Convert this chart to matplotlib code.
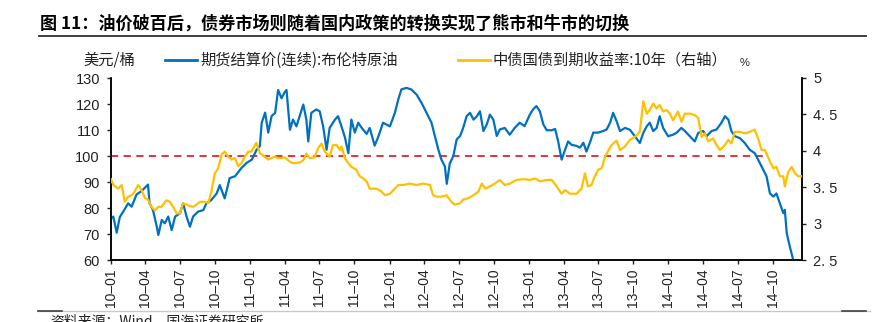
import matplotlib
matplotlib.use("Agg")
import matplotlib.pyplot as plt
import matplotlib.dates as mdates
from matplotlib.lines import Line2D
import pandas as pd

plt.rcParams["font.family"] = ["Liberation Sans", "Noto Sans CJK SC", "DejaVu Sans"]

# Brent continuous futures settlement, USD/bbl
oil_dates = [
    "2010-01-01", "2010-01-07", "2010-01-16", "2010-01-24", "2010-02-02", "2010-02-15",
    "2010-02-24", "2010-03-09", "2010-03-22", "2010-03-31", "2010-04-08", "2010-04-12",
    "2010-04-21", "2010-05-01", "2010-05-05", "2010-05-14", "2010-05-22", "2010-05-31",
    "2010-06-09", "2010-06-18", "2010-07-01", "2010-07-09", "2010-07-18", "2010-07-27",
    "2010-08-04", "2010-08-17", "2010-08-31", "2010-09-08", "2010-09-21", "2010-10-05",
    "2010-10-13", "2010-10-26", "2010-11-08", "2010-11-22", "2010-12-09", "2010-12-22",
    "2011-01-05", "2011-01-18", "2011-01-26", "2011-01-31", "2011-02-09", "2011-02-17",
    "2011-02-26", "2011-03-07", "2011-03-15", "2011-03-24", "2011-04-01", "2011-04-06",
    "2011-04-15", "2011-04-23", "2011-05-02", "2011-05-20", "2011-05-28", "2011-06-02",
    "2011-06-10", "2011-06-23", "2011-07-02", "2011-07-11", "2011-07-20", "2011-07-28",
    "2011-08-11", "2011-08-19", "2011-08-28", "2011-09-06", "2011-09-15", "2011-09-23",
    "2011-10-02", "2011-10-11", "2011-10-20", "2011-11-02", "2011-11-10", "2011-11-23",
    "2011-12-02", "2011-12-15", "2012-01-02", "2012-01-15", "2012-01-24", "2012-02-01",
    "2012-02-14", "2012-02-27", "2012-03-12", "2012-03-25", "2012-04-07", "2012-04-20",
    "2012-04-29", "2012-05-08", "2012-05-16", "2012-05-25", "2012-05-30", "2012-06-07",
    "2012-06-16", "2012-06-25", "2012-07-04", "2012-07-12", "2012-07-21", "2012-07-30",
    "2012-08-08", "2012-08-17", "2012-08-25", "2012-09-03", "2012-09-12", "2012-09-20",
    "2012-09-29", "2012-10-08", "2012-10-16", "2012-10-29", "2012-11-11", "2012-11-24",
    "2012-12-07", "2012-12-20", "2013-01-03", "2013-01-11", "2013-01-20", "2013-01-29",
    "2013-02-07", "2013-02-16", "2013-03-01", "2013-03-10", "2013-03-18", "2013-03-27",
    "2013-04-05", "2013-04-13", "2013-04-22", "2013-05-05", "2013-05-14", "2013-05-23",
    "2013-05-31", "2013-06-09", "2013-06-18", "2013-07-01", "2013-07-14", "2013-07-23",
    "2013-08-01", "2013-08-09", "2013-08-18", "2013-08-27", "2013-09-09", "2013-09-22",
    "2013-10-05", "2013-10-18", "2013-10-27", "2013-11-05", "2013-11-13", "2013-11-22",
    "2013-12-01", "2013-12-09", "2013-12-18", "2013-12-31", "2014-01-13", "2014-01-22",
    "2014-02-04", "2014-02-13", "2014-02-26", "2014-03-11", "2014-03-20", "2014-04-02",
    "2014-04-11", "2014-04-24", "2014-05-07", "2014-05-20", "2014-05-29", "2014-06-07",
    "2014-06-15", "2014-06-24", "2014-07-07", "2014-07-20", "2014-08-02", "2014-08-15",
    "2014-08-24", "2014-09-06", "2014-09-15", "2014-09-24", "2014-10-03", "2014-10-11",
    "2014-10-20", "2014-10-29", "2014-11-02", "2014-11-07", "2014-11-15", "2014-11-24",
    "2014-12-03", "2014-12-10",
]
oil_price = [
    76.0, 76.7, 70.5, 76.5, 78.6, 81.8,
    80.5, 85.2, 86.5, 87.8, 89.0, 81.8,
    79.2, 72.8, 69.6, 75.4, 74.1, 76.7,
    71.5, 76.7, 78.0, 81.8, 76.7, 72.8,
    76.7, 78.6, 79.2, 81.8, 83.1, 85.6,
    88.8, 83.7, 91.5, 92.2, 95.4, 97.3,
    98.6, 102.5, 103.8, 112.8, 116.7, 109.0,
    115.4, 116.5, 125.4, 122.2, 124.5, 125.4,
    110.1, 114.0, 111.4, 119.8, 114.0, 105.6,
    116.6, 117.9, 117.2, 111.4, 102.4, 110.8,
    114.0, 115.3, 111.4, 107.2, 101.1, 114.0,
    109.0, 112.8, 110.8, 108.5, 110.8, 104.0,
    107.2, 112.8, 111.4, 116.6, 121.8, 125.6,
    126.2, 125.6, 123.6, 120.4, 116.6, 112.8,
    107.6, 102.4, 98.6, 96.0, 89.3, 97.2,
    99.9, 106.4, 107.7, 110.8, 115.3, 116.6,
    114.0, 115.3, 117.2, 109.6, 112.2, 115.9,
    114.0, 107.7, 110.2, 110.8, 108.2, 110.8,
    112.8, 111.5, 116.0, 117.9, 119.2, 117.2,
    112.2, 109.9, 109.9, 110.4, 105.6, 98.6,
    102.4, 105.6, 104.3, 103.9, 103.2, 105.1,
    101.7, 105.1, 109.0, 109.0, 109.6, 110.2,
    112.8, 116.6, 113.4, 109.6, 110.8, 110.1,
    107.6, 105.0, 108.9, 111.4, 112.8, 109.6,
    110.8, 115.3, 110.8, 107.6, 108.2, 108.9,
    110.8, 109.6, 107.6, 105.6, 108.9, 109.6,
    107.6, 109.6, 110.2, 112.8, 115.3, 114.0,
    109.6, 107.6, 106.9, 105.0, 102.4, 101.1,
    98.6, 94.8, 92.2, 85.6, 84.4, 85.6,
    81.8, 78.0, 79.3, 70.3, 65.2, 60.0,
    58.5, 57.0,
]

# China government bond 10Y yield, %
yield_dates = [
    "2010-01-01", "2010-01-07", "2010-01-20", "2010-01-29", "2010-02-06", "2010-02-15",
    "2010-02-24", "2010-03-04", "2010-03-13", "2010-03-22", "2010-03-31", "2010-04-08",
    "2010-04-17", "2010-04-26", "2010-05-05", "2010-05-13", "2010-05-26", "2010-06-04",
    "2010-06-13", "2010-06-22", "2010-06-30", "2010-07-09", "2010-07-18", "2010-07-27",
    "2010-08-04", "2010-08-13", "2010-08-22", "2010-09-04", "2010-09-13", "2010-09-21",
    "2010-09-30", "2010-10-09", "2010-10-18", "2010-10-26", "2010-11-04", "2010-11-13",
    "2010-11-22", "2010-11-30", "2010-12-09", "2010-12-18", "2010-12-27", "2011-01-04",
    "2011-01-17", "2011-01-26", "2011-02-08", "2011-02-17", "2011-02-26", "2011-03-06",
    "2011-03-15", "2011-03-24", "2011-04-01", "2011-04-15", "2011-04-23", "2011-05-11",
    "2011-05-20", "2011-05-28", "2011-06-06", "2011-06-19", "2011-06-28", "2011-07-07",
    "2011-07-15", "2011-07-28", "2011-08-06", "2011-08-15", "2011-08-24", "2011-08-28",
    "2011-09-06", "2011-09-15", "2011-09-23", "2011-10-06", "2011-10-15", "2011-10-24",
    "2011-11-02", "2011-11-10", "2011-11-28", "2011-12-11", "2011-12-20", "2012-01-02",
    "2012-01-15", "2012-01-24", "2012-02-06", "2012-02-23", "2012-03-12", "2012-03-29",
    "2012-04-16", "2012-04-24", "2012-05-03", "2012-05-16", "2012-05-29", "2012-06-07",
    "2012-06-11", "2012-06-20", "2012-07-04", "2012-07-12", "2012-07-26", "2012-08-08",
    "2012-08-21", "2012-08-30", "2012-09-08", "2012-09-20", "2012-10-03", "2012-10-16",
    "2012-10-29", "2012-11-11", "2012-11-29", "2012-12-16", "2013-01-03", "2013-01-16",
    "2013-01-29", "2013-02-16", "2013-03-01", "2013-03-14", "2013-03-27", "2013-04-05",
    "2013-04-18", "2013-05-05", "2013-05-18", "2013-05-27", "2013-06-04", "2013-06-13",
    "2013-06-22", "2013-07-01", "2013-07-10", "2013-07-19", "2013-07-28", "2013-08-05",
    "2013-08-18", "2013-08-27", "2013-09-09", "2013-09-22", "2013-10-05", "2013-10-18",
    "2013-10-27", "2013-11-05", "2013-11-13", "2013-11-22", "2013-12-01", "2013-12-09",
    "2013-12-18", "2013-12-27", "2014-01-05", "2014-01-13", "2014-01-26", "2014-02-04",
    "2014-02-13", "2014-02-26", "2014-03-11", "2014-03-20", "2014-03-29", "2014-04-06",
    "2014-04-15", "2014-04-28", "2014-05-07", "2014-05-16", "2014-05-29", "2014-06-07",
    "2014-06-15", "2014-06-24", "2014-07-07", "2014-07-20", "2014-08-02", "2014-08-15",
    "2014-08-24", "2014-09-02", "2014-09-11", "2014-09-24", "2014-10-03", "2014-10-11",
    "2014-10-20", "2014-10-29", "2014-11-02", "2014-11-11", "2014-11-20", "2014-11-29",
    "2014-12-07", "2014-12-16",
]
yield_pct = [
    3.61, 3.53, 3.48, 3.53, 3.30, 3.37,
    3.39, 3.44, 3.53, 3.46, 3.35, 3.33,
    3.23, 3.18, 3.23, 3.23, 3.32, 3.30,
    3.23, 3.14, 3.14, 3.28, 3.26, 3.24,
    3.23, 3.26, 3.30, 3.30, 3.28, 3.44,
    3.69, 3.76, 3.95, 3.99, 3.92, 3.88,
    3.90, 3.79, 3.83, 3.92, 3.99, 3.99,
    4.11, 3.97, 3.92, 3.88, 3.90, 3.92,
    3.90, 3.90, 3.91, 3.85, 3.83, 3.84,
    3.87, 3.96, 3.90, 3.91, 4.04, 4.10,
    3.99, 3.92, 4.08, 4.08, 4.01, 4.06,
    3.90, 3.83, 3.78, 3.74, 3.65, 3.62,
    3.58, 3.48, 3.48, 3.44, 3.39, 3.41,
    3.48, 3.53, 3.53, 3.55, 3.53, 3.55,
    3.53, 3.39, 3.37, 3.37, 3.39, 3.33,
    3.30, 3.26, 3.28, 3.33, 3.35, 3.39,
    3.44, 3.55, 3.48, 3.51, 3.55, 3.60,
    3.53, 3.55, 3.60, 3.61, 3.60, 3.62,
    3.58, 3.60, 3.60, 3.51, 3.41, 3.46,
    3.41, 3.41, 3.48, 3.69, 3.51, 3.53,
    3.65, 3.74, 3.76, 3.92, 4.01, 4.08,
    4.14, 4.01, 4.06, 4.15, 4.19, 4.26,
    4.68, 4.51, 4.56, 4.65, 4.58, 4.63,
    4.54, 4.56, 4.51, 4.42, 4.54, 4.40,
    4.51, 4.51, 4.49, 4.45, 4.19, 4.24,
    4.13, 4.17, 4.08, 4.01, 4.08, 4.15,
    4.10, 4.26, 4.26, 4.24, 4.26, 4.29,
    4.17, 4.01, 4.01, 3.85, 3.76, 3.78,
    3.65, 3.65, 3.51, 3.71, 3.78, 3.69,
    3.65, 3.65,
]

# 100 USD/bbl reference line
ref_level = 100
ref_span = ["2010-01-01", "2014-09-12"]

left_ticks = [60, 70, 80, 90, 100, 110, 120, 130]
right_ticks = [2.5, 3.0, 3.5, 4.0, 4.5, 5.0]
right_labels = ["2. 5", "3", "3. 5", "4", "4. 5", "5"]

title = "图 11：油价破百后，债券市场则随着国内政策的转换实现了熊市和牛市的切换"
oil_label = "期货结算价(连续):布伦特原油"
yield_label = "中债国债到期收益率:10年（右轴）"
left_unit = "美元/桶"
right_unit = "%"
source = "资料来源：Wind，国海证券研究所"

BLUE = "#0070C0"
GOLD = "#FFC000"
RED = "#D9262B"
CJK = ["Noto Sans CJK SC", "DejaVu Sans"]

W, H = 891, 322
fig = plt.figure(figsize=(W / 100, H / 100), dpi=100)


def fx(px):
    return px / W


def fy(py):
    return 1 - py / H


ax = fig.add_axes([fx(111), fy(260), fx(802) - fx(111), fy(78) - fy(260)])
ax2 = ax.twinx()

ax.plot(pd.to_datetime(oil_dates), oil_price, color=BLUE, lw=1.6, zorder=3)
ax.hlines(ref_level, pd.to_datetime(ref_span[0]), pd.to_datetime(ref_span[1]),
          colors=RED, linestyles=(0, (4, 3)), lw=1.3, zorder=2)
ax2.plot(pd.to_datetime(yield_dates), yield_pct, color=GOLD, lw=1.6, zorder=3)

ax.set_xlim(pd.Timestamp("2010-01-01"), pd.Timestamp("2014-12-17"))
ax.set_ylim(60, 130)
ax2.set_ylim(2.5, 5)
ax.set_yticks(left_ticks)
ax2.set_yticks(right_ticks)
ax2.set_yticklabels(right_labels)

ax.xaxis.set_major_locator(mdates.MonthLocator(bymonth=[1, 4, 7, 10]))
ax.xaxis.set_major_formatter(mdates.DateFormatter("%y–%m"))
for lab in ax.get_xticklabels():
    lab.set_rotation(90)

for a in (ax, ax2):
    a.spines["top"].set_visible(False)
    for s in ("left", "right", "bottom"):
        a.spines[s].set_linewidth(1.1)
        a.spines[s].set_color("black")
ax.tick_params(axis="y", direction="out", length=3, width=1, pad=5, labelsize=10.5, colors="#222222")
ax.tick_params(axis="x", direction="out", length=3, width=1, pad=3, labelsize=10, colors="#222222")
ax2.tick_params(axis="y", direction="out", length=3, width=1, pad=5, labelsize=10.5, colors="#222222")
ax.patch.set_visible(False)

# header: title and rule
fig.text(fx(40), fy(24), title, fontsize=12.3, fontweight="bold", va="center", ha="left",
         family=CJK)
fig.add_artist(Line2D([fx(39), fx(866)], [fy(36), fy(36)], color="#404040", lw=1.4))

# legend row
leg_fs = 11
fig.text(fx(83), fy(60), left_unit, fontsize=leg_fs, va="center", ha="left", color="#222222",
         family=CJK)
fig.add_artist(Line2D([fx(165), fx(197)], [fy(60), fy(60)], color=BLUE, lw=2))
fig.text(fx(200), fy(60), oil_label, fontsize=leg_fs, va="center", ha="left", color="#222222",
         family=CJK)
fig.add_artist(Line2D([fx(458), fx(490)], [fy(60), fy(60)], color=GOLD, lw=2))
fig.text(fx(493), fy(60), yield_label, fontsize=leg_fs, va="center", ha="left", color="#222222",
         family=CJK)
fig.text(fx(740), fy(63), right_unit, fontsize=8, va="center", ha="left", color="#222222")

# footer rule and source
fig.add_artist(Line2D([fx(38), fx(870)], [fy(311), fy(311)], color="#C8C8C8", lw=1))
fig.add_artist(Line2D([fx(38), fx(62)], [fy(310.5), fy(310.5)], color="#404040", lw=1.2))
fig.add_artist(Line2D([fx(842), fx(866)], [fy(310.5), fy(310.5)], color="#404040", lw=1.2))
fig.text(fx(50), fy(314), source, fontsize=10, va="top", ha="left", color="#222222",
         family=CJK)

fig.savefig("out.png", dpi=100)
